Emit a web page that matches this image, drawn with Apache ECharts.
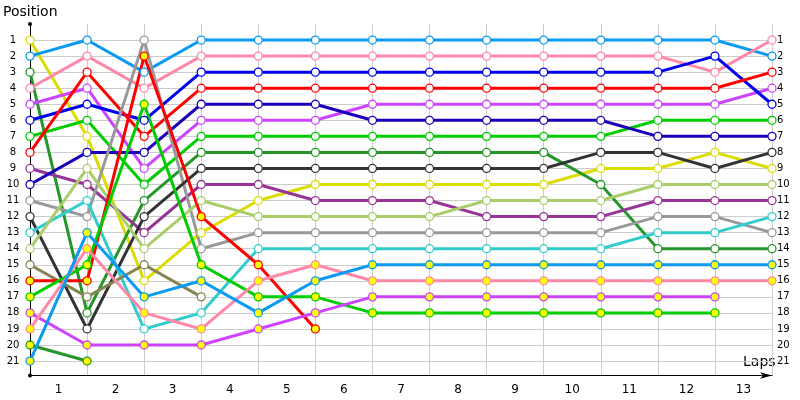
<!DOCTYPE html>
<html>
<head>
<meta charset="utf-8">
<script src="https://cdn.jsdelivr.net/npm/echarts@6/dist/echarts.min.js"></script>
<style>
  html, body { margin: 0; padding: 0; background: #fff; }
  #main { width: 800px; height: 400px; }
</style>
</head>
<body>
<div id="main"></div>
<script>
// lap 0 = grid, then laps 1..13 ; null = retired
var laps = [0, 1, 2, 3, 4, 5, 6, 7, 8, 9, 10, 11, 12, 13];
var lapLabels = ['1', '2', '3', '4', '5', '6', '7', '8', '9', '10', '11', '12', '13'];
var positionLabels = [1, 2, 3, 4, 5, 6, 7, 8, 9, 10, 11, 12, 13, 14, 15, 16, 17, 18, 19, 20, 21];

var yellowCar     = [1, 7, 16, 13, 11, 10, 10, 10, 10, 10, 9, 9, 8, 9];
var skyCar        = [2, 1, 3, 1, 1, 1, 1, 1, 1, 1, 1, 1, 1, 2];
var forestCar     = [3, 18, 11, 8, 8, 8, 8, 8, 8, 8, 10, 14, 14, 14];
var pinkCar       = [4, 2, 4, 2, 2, 2, 2, 2, 2, 2, 2, 2, 3, 1];
var violetCar     = [5, 4, 9, 6, 6, 6, 5, 5, 5, 5, 5, 5, 5, 4];
var blueCar       = [6, 5, 6, 3, 3, 3, 3, 3, 3, 3, 3, 3, 2, 5];
var greenCar      = [7, 6, 10, 7, 7, 7, 7, 7, 7, 7, 7, 6, 6, 6];
var redCar        = [8, 3, 7, 4, 4, 4, 4, 4, 4, 4, 4, 4, 4, 3];
var purpleCar     = [9, 10, 13, 10, 10, 11, 11, 11, 12, 12, 12, 11, 11, 11];
var navyCar       = [10, 8, 8, 5, 5, 5, 6, 6, 6, 6, 6, 7, 7, 7];
var grayCar       = [11, 12, 1, 14, 13, 13, 13, 13, 13, 13, 13, 12, 12, 13];
var blackCar      = [12, 19, 12, 9, 9, 9, 9, 9, 9, 9, 8, 8, 9, 8];
var turquoiseCar  = [13, 11, 19, 18, 14, 14, 14, 14, 14, 14, 14, 13, 13, 12];
var limeCar       = [14, 9, 14, 11, 12, 12, 12, 12, 11, 11, 11, 10, 10, 10];
var oliveCar      = [15, 17, 15, 17, null, null, null, null, null, null, null, null, null, null];
var redCar2       = [16, 16, 2, 12, 15, 19, null, null, null, null, null, null, null, null];
var greenCar2     = [17, 15, 5, 15, 17, 17, 18, 18, 18, 18, 18, 18, 18, null];
var violetCar2    = [18, 20, 20, 20, 19, 18, 17, 17, 17, 17, 17, 17, 17, null];
var pinkCar2      = [19, 14, 18, 19, 16, 15, 16, 16, 16, 16, 16, 16, 16, 16];
var forestCar2    = [20, 21, null, null, null, null, null, null, null, null, null, null, null, null];
var skyCar2       = [21, 13, 17, 16, 18, 16, 15, 15, 15, 15, 15, 15, 15, 15];

var cars = [
  ['yellow', yellowCar, '#dcdc00', false],
  ['sky', skyCar, '#0a9af2', false],
  ['forest', forestCar, '#26962a', false],
  ['pink', pinkCar, '#ff88a8', false],
  ['violet', violetCar, '#cc44ff', false],
  ['blue', blueCar, '#0000ee', false],
  ['green', greenCar, '#00cc00', false],
  ['red', redCar, '#ff0000', false],
  ['purple', purpleCar, '#973597', false],
  ['navy', navyCar, '#1a00b8', false],
  ['gray', grayCar, '#999999', false],
  ['black', blackCar, '#333333', false],
  ['turquoise', turquoiseCar, '#33cccc', false],
  ['lime', limeCar, '#aacc6a', false],
  ['olive', oliveCar, '#858552', false],
  ['red 2', redCar2, '#ff0000', true],
  ['green 2', greenCar2, '#00cc00', true],
  ['violet 2', violetCar2, '#cc44ff', true],
  ['pink 2', pinkCar2, '#ff88a8', true],
  ['forest 2', forestCar2, '#26962a', true],
  ['sky 2', skyCar2, '#0a9af2', true]
];

var myChart = echarts.init(document.getElementById('main'));

var series = cars.map(function (c) {
  return {
    name: c[0],
    type: 'line',
    xAxisIndex: 0,
    yAxisIndex: 0,
    data: laps.map(function (l, i) { return [l, c[1][i]]; }),
    symbol: 'circle',
    symbolSize: 8,
    showAllSymbol: true,
    lineStyle: { color: c[2], width: 3 },
    itemStyle: { color: c[3] ? '#ffff00' : '#ffffff', borderColor: c[2], borderWidth: 1.3 },
    emphasis: { disabled: true }
  };
});

var tickFont = { fontFamily: 'DejaVu Sans', fontSize: 10, color: '#000' };

myChart.setOption({
  animation: false,
  grid: { left: 30, right: 28, top: 24, bottom: 24.5 },
  graphic: [
    { type: 'text', left: 3, top: 5, style: { text: 'Position', font: '14px DejaVu Sans', fill: '#000' } },
    { type: 'text', left: 743, top: 355, style: { text: 'Laps', font: '14px DejaVu Sans', fill: '#000' } }
  ],
  xAxis: [
    {
      type: 'value',
      min: 0,
      max: 13,
      interval: 1,
      axisLine: { show: true, onZero: false, lineStyle: { color: '#000', width: 1 }, symbol: ['none', 'arrow'], symbolSize: [5, 12] },
      axisTick: { show: false },
      axisLabel: { show: false },
      splitLine: { show: true, showMinLine: false, lineStyle: { color: '#cccccc', width: 1 } }
    },
    {
      type: 'category',
      data: lapLabels,
      boundaryGap: true,
      position: 'bottom',
      axisLine: { show: false },
      axisTick: { show: false },
      axisLabel: { fontFamily: 'DejaVu Sans', fontSize: 12, color: '#000', margin: 8 },
      splitLine: { show: false }
    }
  ],
  yAxis: [
    {
      type: 'value',
      inverse: true,
      min: 0,
      max: 21.9,
      interval: 1,
      axisLine: { show: true, onZero: false, lineStyle: { color: '#000', width: 1 }, symbol: ['circle', 'circle'], symbolSize: [4, 4] },
      axisTick: { show: false },
      axisLabel: Object.assign({
        align: 'center',
        margin: 17,
        formatter: function (v) { return positionLabels.indexOf(v) >= 0 ? String(v) : ''; }
      }, tickFont),
      splitLine: { show: true, showMinLine: false, showMaxLine: false, lineStyle: { color: '#cccccc', width: 1 } }
    },
    {
      type: 'value',
      inverse: true,
      position: 'right',
      min: 0,
      max: 21.9,
      interval: 1,
      axisLine: { show: false },
      axisTick: { show: false },
      axisLabel: Object.assign({
        align: 'left',
        margin: 5,
        formatter: function (v) { return positionLabels.indexOf(v) >= 0 ? String(v) : ''; }
      }, tickFont),
      splitLine: { show: false }
    }
  ],
  series: series
});
</script>
</body>
</html>
